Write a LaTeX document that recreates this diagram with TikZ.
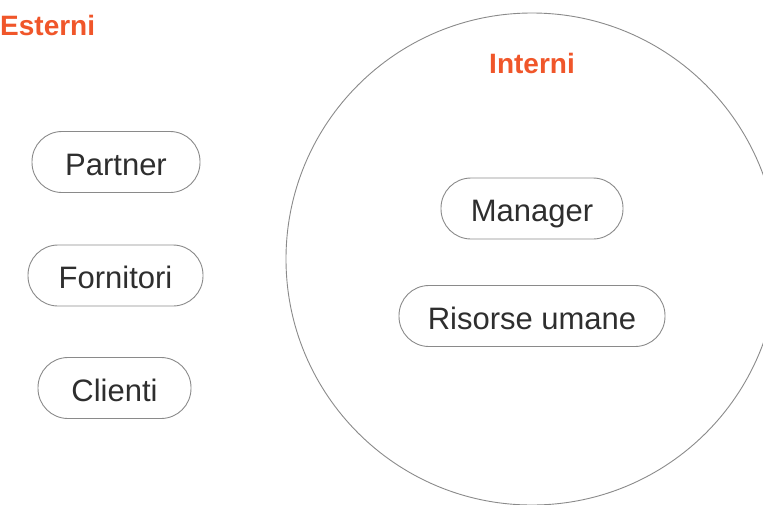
\documentclass[tikz,border=0pt]{standalone}
\usepackage{fontspec}
\setmainfont{Liberation Sans}
\definecolor{accent}{HTML}{F0562A}
\definecolor{txt}{HTML}{2E2E2E}
\definecolor{edge}{HTML}{8A8A8A}
\begin{document}
\begin{tikzpicture}[x=1pt,y=-1pt,
  pill/.style={draw=edge, line width=0.9pt, rounded corners=30pt, minimum height=61pt,
    inner sep=0pt, text height=26pt, text depth=0pt, text=txt, font=\fontsize{31}{34}\selectfont},
  heading/.style={text=accent, font=\fontsize{28}{31}\selectfont\bfseries, inner sep=0pt}]
\useasboundingbox (0,0) rectangle (763,504);
\clip (0,0) rectangle (763,504);
\node[draw=edge, line width=0.9pt, circle, minimum size=492pt, inner sep=0pt] (inner) at (532,259) {};
\node[heading, anchor=west] (esterni) at (0,25) {Esterni};
\node[heading] (interni) at (532,63) {Interni};
\node[pill, minimum width=168pt] (partner) at (116,162) {Partner};
\node[pill, minimum width=175pt] (fornitori) at (115.5,275.5) {Fornitori};
\node[pill, minimum width=153pt] (clienti) at (114.5,388) {Clienti};
\node[pill, minimum width=182pt] (manager) at (532,208.5) {Manager};
\node[pill, minimum width=266pt] (risorse) at (532,316) {Risorse umane};
\end{tikzpicture}
\end{document}
